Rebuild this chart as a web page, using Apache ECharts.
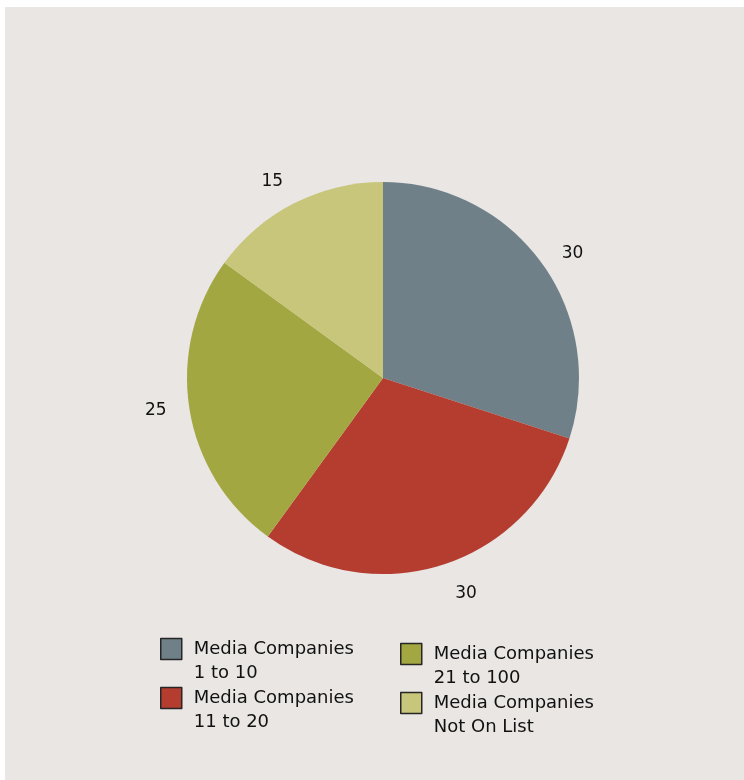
<!DOCTYPE html>
<html>
<head>
<meta charset="utf-8">
<script src="https://cdn.jsdelivr.net/npm/echarts@6/dist/echarts.min.js"></script>
<style>
  html, body { margin: 0; padding: 0; background: #ffffff; }
  #chart { position: absolute; left: 5px; top: 7px; width: 739px; height: 773px; background: #e9e6e3; }
</style>
</head>
<body>
<div id="chart"></div>
<script>
// Share of media companies by ranking group
const categories = [
  'Media Companies 1 to 10',
  'Media Companies 11 to 20',
  'Media Companies 21 to 100',
  'Media Companies Not On List'
];
const values = [30, 30, 25, 15];
const colors = ['#6f8088', '#b43d30', '#a3a741', '#c8c67a'];

// hidden leader lengths that set how far each value label sits from the rim
const leaderStyles = [
  { length: 15, length2: 3 },
  { length: 31, length2: -3 },
  { length: 15, length2: 3 },
  { length: 24, length2: -5 }
];

const sliceData = categories.map((name, i) => ({
  name: name,
  value: values[i],
  itemStyle: { color: colors[i] },
  labelLine: Object.assign({ show: false }, leaderStyles[i])
}));

// Legend text wraps after "Media Companies"; the blank first line keeps
// the first text line level with the swatch
const legendFormatter = name => '\n' + name.replace('Media Companies ', 'Media Companies\n');

const legendCommon = {
  orient: 'vertical',
  padding: 0,
  itemWidth: 21,
  itemHeight: 21,
  itemGap: -23,
  icon: 'rect',
  selectedMode: false,
  itemStyle: { borderColor: '#262626', borderWidth: 1.5 },
  formatter: legendFormatter,
  textStyle: {
    fontFamily: 'DejaVu Sans',
    fontSize: 18,
    lineHeight: 24,
    color: '#111111',
    padding: [0, 0, 0, 7]
  }
};

const chart = echarts.init(document.getElementById('chart'), null, { renderer: 'canvas' });

chart.setOption({
  animation: false,
  backgroundColor: '#e9e6e3',
  legend: [
    Object.assign({}, legendCommon, { left: 155, top: 606, data: categories.slice(0, 2) }),
    Object.assign({}, legendCommon, { left: 395, top: 611, data: categories.slice(2, 4) })
  ],
  series: [
    {
      type: 'pie',
      center: [378, 371],
      radius: 196,
      startAngle: 90,
      clockwise: true,
      silent: true,
      itemStyle: { borderWidth: 0 },
      label: {
        show: true,
        position: 'outside',
        formatter: '{c}',
        fontFamily: 'DejaVu Sans',
        fontSize: 17,
        color: '#111111'
      },
      labelLine: { show: false, length: 15, length2: 3 },
      data: sliceData
    }
  ]
});
</script>
</body>
</html>
